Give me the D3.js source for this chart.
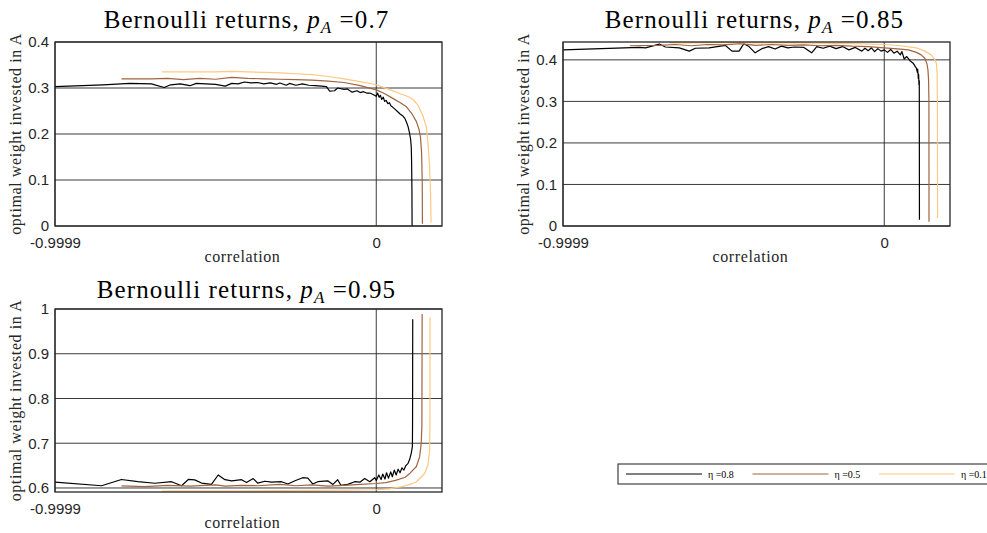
<!DOCTYPE html>
<html>
<head>
<meta charset="utf-8">
<script src="https://cdn.jsdelivr.net/npm/d3@7"></script>
<style>
    body { margin: 0; background: #fff; }
    svg { display: block; }
</style>
</head>
<body>
<svg id="chart"></svg>
<script>
// correlation range and tick labels shared by all panels
const corrDomain = [-0.9999, 0.2046];
const corrTicks = [-0.9999, 0];
const corrTickLabels = ["-0.9999", "0"];

const etaLabels = ["\u03b7 =0.8", "\u03b7 =0.5", "\u03b7 =0.1"];
const probLabels = ["0.7", "0.85", "0.95"];

// [correlation, optimal weight]
const p70Eta08 = [[-0.9999,0.303],[-0.85,0.307],[-0.767,0.310],[-0.70,0.309],[-0.66,0.301],[-0.64,0.307],[-0.61,0.309],[-0.58,0.305],[-0.56,0.310],[-0.53,0.309],[-0.50,0.308],[-0.47,0.304],[-0.45,0.310],[-0.43,0.309],[-0.41,0.313],[-0.39,0.311],[-0.37,0.312],[-0.35,0.309],[-0.33,0.311],[-0.31,0.308],[-0.30,0.311],[-0.28,0.306],[-0.27,0.310],[-0.25,0.306],[-0.23,0.309],[-0.21,0.306],[-0.19,0.305],[-0.17,0.304],[-0.155,0.303],[-0.145,0.293],[-0.13,0.294],[-0.12,0.300],[-0.10,0.297],[-0.09,0.298],[-0.075,0.291],[-0.06,0.294],[-0.05,0.290],[-0.04,0.292],[-0.03,0.289],[-0.02,0.289],[-0.01,0.286],[0.0,0.282],[0.004,0.289],[0.009,0.280],[0.013,0.284],[0.017,0.275],[0.022,0.280],[0.026,0.271],[0.031,0.273],[0.036,0.266],[0.041,0.268],[0.046,0.261],[0.05,0.259],[0.058,0.254],[0.066,0.249],[0.075,0.243],[0.083,0.239],[0.089,0.234],[0.095,0.224],[0.099,0.216],[0.103,0.204],[0.107,0.188],[0.109,0.170],[0.110,0.140],[0.111,0.08],[0.1115,0.0]];
const p70Eta05 = [[-0.793,0.320],[-0.70,0.320],[-0.65,0.321],[-0.60,0.318],[-0.55,0.321],[-0.50,0.319],[-0.45,0.323],[-0.40,0.321],[-0.35,0.320],[-0.30,0.319],[-0.25,0.318],[-0.20,0.317],[-0.15,0.315],[-0.10,0.312],[-0.05,0.305],[0.0,0.296],[0.025,0.288],[0.05,0.278],[0.075,0.268],[0.094,0.259],[0.11,0.245],[0.125,0.227],[0.133,0.210],[0.1375,0.194],[0.141,0.160],[0.143,0.10],[0.1437,0.005]];
const p70Eta01 = [[-0.667,0.335],[-0.60,0.335],[-0.50,0.335],[-0.45,0.336],[-0.40,0.335],[-0.35,0.334],[-0.30,0.333],[-0.25,0.331],[-0.20,0.329],[-0.15,0.325],[-0.10,0.320],[-0.05,0.314],[0.0,0.307],[0.04,0.297],[0.073,0.288],[0.10,0.281],[0.115,0.275],[0.13,0.262],[0.146,0.238],[0.156,0.215],[0.161,0.18],[0.166,0.13],[0.169,0.07],[0.1705,0.007]];

const p85Eta08 = [[-0.9999,0.424],[-0.762,0.430],[-0.743,0.429],[-0.700,0.438],[-0.681,0.431],[-0.638,0.429],[-0.607,0.421],[-0.588,0.428],[-0.545,0.429],[-0.495,0.435],[-0.474,0.421],[-0.452,0.421],[-0.437,0.439],[-0.421,0.432],[-0.402,0.417],[-0.381,0.427],[-0.36,0.432],[-0.34,0.426],[-0.32,0.433],[-0.30,0.429],[-0.28,0.431],[-0.25,0.430],[-0.226,0.417],[-0.21,0.432],[-0.19,0.428],[-0.17,0.433],[-0.15,0.427],[-0.13,0.432],[-0.11,0.424],[-0.09,0.430],[-0.07,0.421],[-0.06,0.428],[-0.05,0.422],[-0.04,0.429],[-0.03,0.420],[-0.02,0.427],[-0.01,0.421],[0.0,0.424],[0.01,0.418],[0.02,0.425],[0.03,0.416],[0.04,0.421],[0.05,0.412],[0.055,0.420],[0.062,0.402],[0.07,0.408],[0.08,0.398],[0.09,0.392],[0.097,0.383],[0.100,0.380],[0.103,0.370],[0.104,0.378],[0.106,0.355],[0.107,0.365],[0.108,0.340],[0.109,0.350],[0.1095,0.015]];
const p85Eta05 = [[-0.792,0.434],[-0.70,0.435],[-0.65,0.437],[-0.60,0.434],[-0.55,0.437],[-0.50,0.436],[-0.45,0.439],[-0.40,0.435],[-0.35,0.437],[-0.30,0.435],[-0.25,0.436],[-0.20,0.434],[-0.15,0.435],[-0.10,0.433],[-0.05,0.432],[0.0,0.429],[0.05,0.426],[0.075,0.424],[0.10,0.418],[0.115,0.412],[0.126,0.404],[0.133,0.390],[0.136,0.376],[0.138,0.35],[0.139,0.30],[0.1393,0.010]];
const p85Eta01 = [[-0.669,0.441],[-0.60,0.441],[-0.50,0.442],[-0.40,0.441],[-0.30,0.441],[-0.20,0.440],[-0.10,0.439],[0.0,0.437],[0.05,0.434],[0.10,0.429],[0.126,0.421],[0.146,0.412],[0.158,0.400],[0.162,0.392],[0.1645,0.37],[0.1655,0.30],[0.166,0.019]];

const p95Eta08 = [[-0.9999,0.613],[-0.855,0.605],[-0.793,0.619],[-0.742,0.614],[-0.689,0.6105],[-0.637,0.614],[-0.606,0.605],[-0.585,0.619],[-0.565,0.618],[-0.544,0.611],[-0.513,0.608],[-0.492,0.629],[-0.471,0.6185],[-0.450,0.616],[-0.419,0.6185],[-0.404,0.612],[-0.383,0.621],[-0.369,0.611],[-0.347,0.615],[-0.326,0.613],[-0.295,0.614],[-0.275,0.609],[-0.253,0.616],[-0.229,0.623],[-0.213,0.622],[-0.198,0.609],[-0.182,0.614],[-0.151,0.616],[-0.135,0.608],[-0.120,0.6185],[-0.110,0.606],[-0.089,0.608],[-0.067,0.614],[-0.051,0.613],[-0.036,0.621],[-0.020,0.614],[-0.005,0.623],[0.0,0.617],[0.008,0.629],[0.015,0.619],[0.02,0.631],[0.027,0.620],[0.032,0.634],[0.038,0.622],[0.045,0.636],[0.05,0.625],[0.056,0.640],[0.062,0.629],[0.068,0.642],[0.074,0.634],[0.08,0.645],[0.086,0.640],[0.092,0.650],[0.099,0.655],[0.104,0.664],[0.109,0.678],[0.1125,0.693],[0.113,0.753],[0.1135,0.977]];
const p95Eta05 = [[-0.793,0.6045],[-0.72,0.603],[-0.65,0.606],[-0.58,0.604],[-0.50,0.607],[-0.47,0.604],[-0.42,0.606],[-0.37,0.605],[-0.30,0.608],[-0.25,0.605],[-0.20,0.607],[-0.15,0.604],[-0.10,0.606],[-0.05,0.608],[0.0,0.610],[0.03,0.612],[0.06,0.617],[0.09,0.624],[0.105,0.633],[0.125,0.648],[0.135,0.670],[0.140,0.70],[0.142,0.74],[0.1428,0.989]];
const p95Eta01 = [[-0.667,0.593],[-0.5,0.593],[-0.3,0.594],[-0.1,0.595],[0.0,0.596],[0.04,0.598],[0.08,0.603],[0.11,0.609],[0.125,0.614],[0.151,0.633],[0.161,0.652],[0.1664,0.685],[0.167,0.75],[0.1673,0.981]];

const lineColors = ["#000000", "#a0643f", "#ffc77f"];
const axisColor = "#262626";
const serif = "'Liberation Serif', 'Times New Roman', serif";

const W = 987, H = 533;
const svg = d3.select("#chart").attr("width", W).attr("height", H);

const panels = [
    {p: probLabels[0], left: 55, top: 42, width: 387, height: 184, titleY: -14, yDomain: [0, 0.4], yTicks: [0, 0.1, 0.2, 0.3, 0.4], series: [p70Eta08, p70Eta05, p70Eta01]},
    {p: probLabels[1], left: 563, top: 42, width: 387, height: 184, titleY: -14, yDomain: [0, 0.443], yTicks: [0, 0.1, 0.2, 0.3, 0.4], series: [p85Eta08, p85Eta05, p85Eta01]},
    {p: probLabels[2], left: 55, top: 309, width: 387, height: 183, titleY: -11, yDomain: [0.591, 1], yTicks: [0.6, 0.7, 0.8, 0.9, 1], series: [p95Eta08, p95Eta05, p95Eta01]}
];

panels.forEach((pn, i) => {
    const g = svg.append("g").attr("transform", `translate(${pn.left},${pn.top})`);
    const x = d3.scaleLinear().domain(corrDomain).range([0, pn.width]);
    const y = d3.scaleLinear().domain(pn.yDomain).range([pn.height, 0]);

    // grid
    g.append("g").selectAll("line").data(pn.yTicks).enter().append("line")
        .attr("x1", 0).attr("x2", pn.width)
        .attr("y1", d => y(d)).attr("y2", d => y(d))
        .attr("stroke", axisColor).attr("stroke-width", 1).attr("opacity", 0.9);
    g.append("g").selectAll("line").data(corrTicks).enter().append("line")
        .attr("x1", d => x(d)).attr("x2", d => x(d))
        .attr("y1", 0).attr("y2", pn.height)
        .attr("stroke", axisColor).attr("stroke-width", 1).attr("opacity", 0.9);

    // axes
    const yAxis = g.append("g").call(d3.axisLeft(y).tickValues(pn.yTicks).tickSize(0).tickPadding(6)
        .tickFormat(d => d === 0 ? "0" : d === 1 ? "1" : d3.format(".1f")(d)));
    const xAxis = g.append("g").attr("transform", `translate(0,${pn.height})`)
        .call(d3.axisBottom(x).tickValues(corrTicks).tickSize(0).tickPadding(11)
        .tickFormat((d, k) => corrTickLabels[k]));
    [yAxis, xAxis].forEach(a => {
        a.select(".domain").remove();
        a.selectAll("text").attr("font-family", "'Liberation Sans', Arial, sans-serif")
            .attr("font-size", 15).attr("fill", axisColor);
    });

    const clipId = "clip" + i;
    g.append("clipPath").attr("id", clipId).append("rect")
        .attr("x", -1).attr("y", -1).attr("width", pn.width + 2).attr("height", pn.height + 2);

    const line = d3.line().x(d => x(d[0])).y(d => y(d[1]));
    g.append("g").attr("clip-path", `url(#${clipId})`)
        .selectAll("path").data(pn.series).enter().append("path")
        .attr("d", line)
        .attr("fill", "none")
        .attr("stroke", (d, k) => lineColors[k])
        .attr("stroke-width", 1.2)
        .attr("stroke-linejoin", "round");

    // box
    g.append("rect").attr("width", pn.width).attr("height", pn.height)
        .attr("fill", "none").attr("stroke", axisColor).attr("stroke-width", 1.3);

    // title
    const t = g.append("text")
        .attr("x", pn.width / 2 - 2).attr("y", pn.titleY)
        .attr("text-anchor", "middle")
        .attr("font-family", serif)
        .attr("font-size", 25).attr("letter-spacing", 1.1).attr("fill", "#000");
    t.append("tspan").text("Bernoulli returns, ");
    t.append("tspan").attr("font-style", "italic").text("p");
    t.append("tspan").attr("font-style", "italic").attr("font-size", 17).attr("dy", 5).text("A");
    t.append("tspan").attr("dy", -5).text(" =" + pn.p);

    g.append("text")
        .attr("x", pn.width / 2 - 6).attr("y", pn.height + 36)
        .attr("text-anchor", "middle")
        .attr("font-family", serif)
        .attr("font-size", 16).attr("letter-spacing", 0.6).attr("fill", axisColor)
        .text("correlation");

    g.append("text")
        .attr("transform", `translate(${-34},${pn.height / 2}) rotate(-90)`)
        .attr("text-anchor", "middle")
        .attr("font-family", serif)
        .attr("font-size", 16).attr("letter-spacing", 0.6).attr("fill", axisColor)
        .text("optimal weight invested in A");
});

// legend, runs past the right edge like the original
const leg = svg.append("g").attr("transform", "translate(618,464)");
leg.append("rect").attr("width", 400).attr("height", 20)
    .attr("fill", "#fff").attr("stroke", "#404040").attr("stroke-width", 1.2);
etaLabels.forEach((lab, k) => {
    const ox = 8 + k * 126.5;
    leg.append("line").attr("x1", ox).attr("x2", ox + 76).attr("y1", 10).attr("y2", 10)
        .attr("stroke", lineColors[k]).attr("stroke-width", 1.2);
    leg.append("text").attr("x", ox + 82).attr("y", 13.5)
        .attr("font-family", serif)
        .attr("font-size", 10).attr("fill", "#000")
        .text(lab);
});
</script>
</body>
</html>
